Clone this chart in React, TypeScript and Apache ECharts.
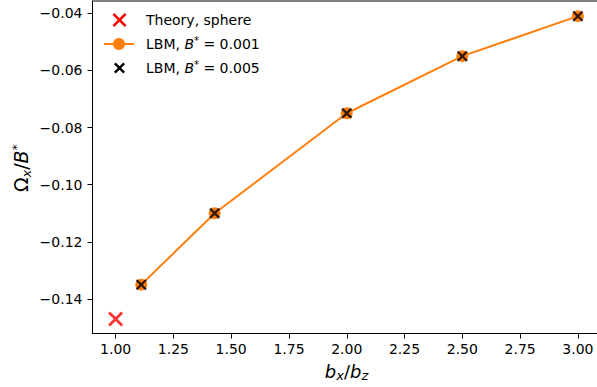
import React, { useEffect, useRef } from 'react';
import * as echarts from 'echarts';

// ---- data ----
const theoryX = [1.0];
const theoryY = [-0.147];
const lbmX = [1.111, 1.4286, 2.0, 2.5, 3.0];
const lbm001Y = [-0.135, -0.110, -0.075, -0.055, -0.041];
const lbm005Y = [-0.135, -0.110, -0.075, -0.055, -0.041];
const xTicks = [1.0, 1.25, 1.5, 1.75, 2.0, 2.25, 2.5, 2.75, 3.0];
const yTicks = [-0.14, -0.12, -0.10, -0.08, -0.06, -0.04];
const seriesNames = ['Theory, sphere', 'LBM, B* = 0.001', 'LBM, B* = 0.005'];

const FONT = 'DejaVu Sans';
const ORANGE = '#ff7f0e';

function xPath(d: number) {
  const a = d, b = 1 - d, c = 0.5 - d, e = 0.5 + d;
  return `path://M0,${a} L${a},0 L0.5,${c} L${b},0 L1,${a} L${e},0.5 L1,${b} L${b},1 L0.5,${e} L${a},1 L0,${b} L${c},0.5 Z`;
}

function xPoly(cx: number, cy: number, s: number, d: number) {
  const a = d, b = 1 - d, c = 0.5 - d, e = 0.5 + d;
  const pts = [[0, a], [a, 0], [0.5, c], [b, 0], [1, a], [e, 0.5], [1, b], [b, 1], [0.5, e], [a, 1], [0, b], [c, 0.5]];
  return pts.map(([u, v]) => [cx + (u - 0.5) * s, cy + (v - 0.5) * s]);
}

const richBase = (size: number) => ({
  r: { fontFamily: FONT, fontSize: size, color: '#000', lineHeight: size + 4 },
  i: { fontFamily: FONT, fontSize: size, fontStyle: 'italic', color: '#000', lineHeight: size + 4 },
  sub: { fontFamily: FONT, fontSize: Math.round(size * 0.7), fontStyle: 'italic', color: '#000', verticalAlign: 'bottom', lineHeight: Math.round(size * 0.45) },
  sup: { fontFamily: FONT, fontSize: Math.round(size * 0.7), color: '#000', verticalAlign: 'top', lineHeight: Math.round(size * 0.5) },
});

export default function App() {
  const ref = useRef<HTMLDivElement>(null);
  useEffect(() => {
    document.body.style.margin = '0';
    const chart = echarts.init(ref.current!, null, { renderer: 'svg' });
    const legendRows = [20, 44, 68];
    const option: any = {
      animation: false,
      backgroundColor: '#fff',
      grid: {
        left: 92.5, top: 1, right: -4, bottom: 53.5,
        show: true, borderColor: '#000', borderWidth: 1, backgroundColor: 'transparent',
        containLabel: false, outerBoundsMode: 'none',
      },
      xAxis: {
        type: 'value', min: 0.9, max: 3.1,
        axisLine: { show: true, onZero: false, lineStyle: { color: '#000', width: 1 } },
        axisTick: { show: true, length: 5, customValues: xTicks, lineStyle: { color: '#000', width: 1 } },
        axisLabel: { customValues: xTicks, formatter: (v: number) => v.toFixed(2), fontFamily: FONT, fontSize: 14, color: '#000', margin: 8 },
        splitLine: { show: false },
      },
      yAxis: {
        type: 'value', min: -0.1521, max: -0.0357,
        axisLine: { show: true, onZero: false, lineStyle: { color: '#000', width: 1 } },
        axisTick: { show: true, length: 5, customValues: yTicks, lineStyle: { color: '#000', width: 1 } },
        axisLabel: { customValues: yTicks, formatter: (v: number) => v.toFixed(2).replace('-', '\u2212'), fontFamily: FONT, fontSize: 14, color: '#000', margin: 10 },
        splitLine: { show: false },
      },
      series: [
        {
          name: seriesNames[1], type: 'line',
          data: lbmX.map((x, k) => [x, lbm001Y[k]]),
          symbol: 'circle', symbolSize: 12, showSymbol: true,
          itemStyle: { color: ORANGE }, lineStyle: { color: ORANGE, width: 2 },
          silent: true, z: 2,
        },
        {
          name: seriesNames[2], type: 'scatter',
          data: lbmX.map((x, k) => [x, lbm005Y[k]]),
          symbol: xPath(0.15), symbolSize: 11,
          itemStyle: { color: '#000' }, silent: true, z: 3,
        },
        {
          name: seriesNames[0], type: 'scatter',
          data: theoryX.map((x, k) => [x, theoryY[k]]),
          symbol: xPath(0.13), symbolSize: 15,
          itemStyle: { color: '#ff0000' }, silent: true, z: 4,
        },
      ],
      graphic: [
        // legend
        { type: 'polygon', shape: { points: xPoly(119.5, legendRows[0], 14, 0.13) }, style: { fill: '#ff0000' } },
        { type: 'line', shape: { x1: 104, y1: legendRows[1], x2: 134, y2: legendRows[1] }, style: { stroke: ORANGE, lineWidth: 2 } },
        { type: 'circle', shape: { cx: 119, cy: legendRows[1], r: 6 }, style: { fill: ORANGE } },
        { type: 'polygon', shape: { points: xPoly(119.5, legendRows[2], 11, 0.15) }, style: { fill: '#000' } },
        {
          type: 'text', x: 146, y: legendRows[0],
          style: { text: '{r|Theory, sphere}', rich: richBase(14), verticalAlign: 'middle', align: 'left' },
        },
        {
          type: 'text', x: 146, y: legendRows[1],
          style: { text: '{r|LBM, }{i|B}{sup|*}{r| = 0.001}', rich: richBase(14), verticalAlign: 'middle', align: 'left' },
        },
        {
          type: 'text', x: 146, y: legendRows[2],
          style: { text: '{r|LBM, }{i|B}{sup|*}{r| = 0.005}', rich: richBase(14), verticalAlign: 'middle', align: 'left' },
        },
        // axis titles
        {
          type: 'text', x: 346.5, y: 371,
          style: { text: '{i|b}{sub|x}{r|/}{i|b}{sub|z}', rich: richBase(18), align: 'center', verticalAlign: 'middle' },
        },
        {
          type: 'text', x: 21, y: 168, rotation: Math.PI / 2,
          style: { text: '{r|Ω}{sub|x}{r|/}{i|B}{sup|*}', rich: richBase(19), align: 'center', verticalAlign: 'middle' },
        },
      ],
    };
    chart.setOption(option);
    return () => chart.dispose();
  }, []);
  return <div ref={ref} style={{ width: 597, height: 387, position: 'fixed', left: 0, top: 0 }} />;
}
